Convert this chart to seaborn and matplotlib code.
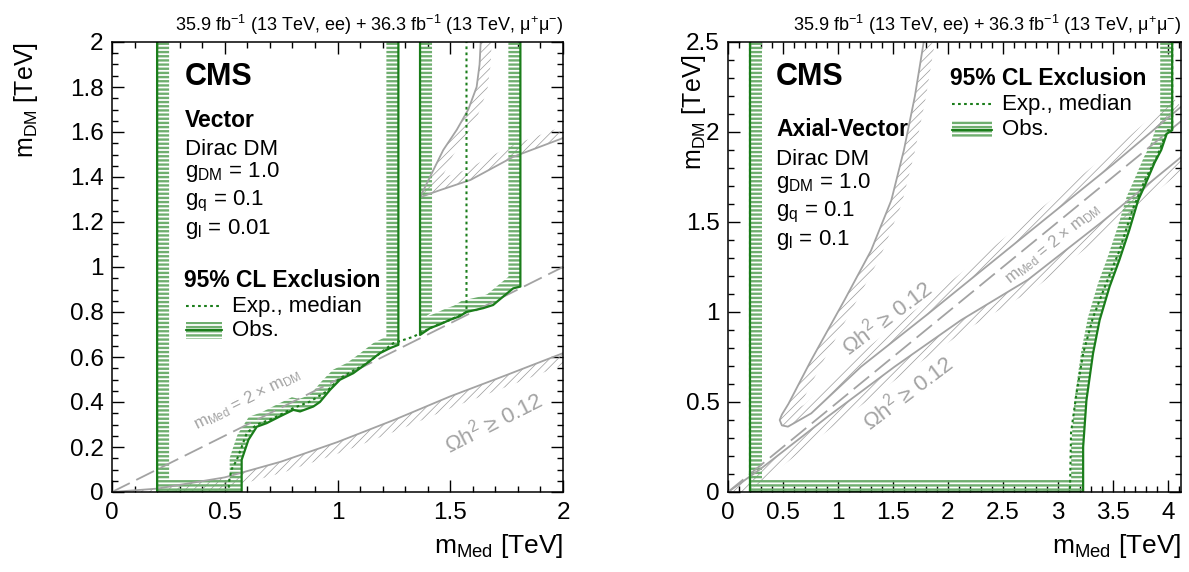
import numpy as np
import matplotlib
matplotlib.use('Agg')
import matplotlib.pyplot as plt
from matplotlib.ticker import MultipleLocator, FormatStrFormatter
from matplotlib.patches import Rectangle
import seaborn as sns

# ---- Vector mediator (left panel) ----
vec_obs1_x = [0.2, 0.2, 0.575, 0.575, 0.605, 0.642, 0.686, 0.745, 0.804, 0.834, 0.893, 0.922, 0.967, 1.011, 1.07, 1.13, 1.188, 1.232, 1.27, 1.27]
vec_obs1_y = [2.0, 0.0, 0.0, 0.143, 0.232, 0.29, 0.306, 0.336, 0.365, 0.358, 0.38, 0.40, 0.454, 0.499, 0.528, 0.572, 0.617, 0.639, 0.654, 2.0]
vec_obs2_x = [1.366, 1.366, 1.41, 1.454, 1.498, 1.54, 1.572, 1.646, 1.69, 1.734, 1.779, 1.811, 1.811]
vec_obs2_y = [2.0, 0.698, 0.728, 0.745, 0.765, 0.78, 0.80, 0.817, 0.831, 0.868, 0.905, 0.913, 2.0]
vec_exp_x = [0.2, 0.2, 0.516, 0.52, 0.53, 0.553, 0.575, 0.598, 0.642, 0.716, 0.804, 0.878, 0.952, 1.011, 1.13, 1.247, 1.336, 1.424, 1.50, 1.572, 1.572]
vec_exp_y = [2.0, 0.0, 0.0, 0.05, 0.1, 0.142, 0.2, 0.263, 0.299, 0.328, 0.373, 0.402, 0.447, 0.506, 0.572, 0.661, 0.69, 0.735, 0.765, 0.80, 2.0]
vec_relic_lo_x = [0.0, 0.2, 0.5, 0.75, 1.0, 1.25, 1.5, 1.75, 2.0]
vec_relic_lo_y = [0.0, 0.015, 0.065, 0.135, 0.222, 0.32, 0.425, 0.52, 0.617]
vec_relic_hi_x = [1.635, 1.63, 1.617, 1.58, 1.529, 1.469, 1.41, 1.366, 1.45, 1.59, 1.78, 2.0]
vec_relic_hi_y = [2.0, 1.90, 1.80, 1.70, 1.61, 1.52, 1.40, 1.31, 1.34, 1.387, 1.49, 1.573]

# ---- Axial-vector mediator (right panel) ----
av_obs_x = [0.2, 0.2, 3.23, 3.23, 3.26, 3.32, 3.38, 3.47, 3.56, 3.65, 3.73, 3.81, 3.88, 3.94, 3.99, 4.04, 4.04]
av_obs_y = [2.5, 0.0, 0.0, 0.25, 0.51, 0.77, 0.955, 1.14, 1.29, 1.456, 1.62, 1.73, 1.83, 1.90, 1.99, 2.01, 2.5]
av_exp_x = [0.2, 0.2, 3.11, 3.12, 3.17, 3.23, 3.32, 3.44, 3.56, 3.68, 3.79, 3.90, 3.97, 4.0, 4.04, 4.04]
av_exp_y = [2.5, 0.0, 0.0, 0.33, 0.55, 0.77, 0.97, 1.16, 1.34, 1.57, 1.73, 1.86, 1.97, 2.01, 2.01, 2.5]
av_relic_wedge_x = [1.78, 1.70, 1.60, 1.485, 1.30, 1.06, 0.757, 0.55, 0.49, 0.47, 0.49, 0.545, 0.757, 1.21, 1.82, 2.73, 3.5, 4.12]
av_relic_wedge_y = [2.5, 2.2, 1.9, 1.62, 1.34, 1.067, 0.733, 0.49, 0.43, 0.40, 0.37, 0.363, 0.437, 0.696, 0.99, 1.44, 1.82, 2.14]
av_relic_lo_x = [0.0, 0.3, 0.91, 1.515, 2.12, 2.73, 3.4, 4.12]
av_relic_lo_y = [0.0, 0.13, 0.42, 0.696, 0.955, 1.18, 1.5, 1.86]

header = '35.9 fb$^{-1}$ (13 TeV, ee) + 36.3 fb$^{-1}$ (13 TeV, μ$^{+}$μ$^{-}$)'
vec_info = ['Dirac DM', 'g$_{\\mathrm{DM}}$ = 1.0', 'g$_{\\mathrm{q}}$ = 0.1', 'g$_{\\mathrm{l}}$ = 0.01']
av_info = ['Dirac DM', 'g$_{\\mathrm{DM}}$ = 1.0', 'g$_{\\mathrm{q}}$ = 0.1', 'g$_{\\mathrm{l}}$ = 0.1']

GREEN = '#1a7d1a'
GREEN_H = '#6fae6f'
GREY = '#a3a3a3'
HATCH_GREY = '#9a9a9a'

sns.set_theme(style='ticks')
plt.rcParams['font.family'] = ['Liberation Sans', 'DejaVu Sans']
plt.rcParams['mathtext.fontset'] = 'custom'
plt.rcParams['mathtext.rm'] = 'Liberation Sans'
plt.rcParams['mathtext.it'] = 'Liberation Sans:italic'
plt.rcParams['mathtext.bf'] = 'Liberation Sans:bold'
plt.rcParams['axes.linewidth'] = 1.1
plt.rcParams['axes.edgecolor'] = 'black'
plt.rcParams['text.color'] = 'black'
plt.rcParams['axes.labelcolor'] = 'black'
plt.rcParams['xtick.color'] = 'black'
plt.rcParams['ytick.color'] = 'black'


def band_polygon(ax, xs, ys, width, side):
    # offset the curve by a fixed number of pixels towards one side
    pts = ax.transData.transform(np.column_stack([xs, ys]))
    d = np.diff(pts, axis=0)
    d = d / np.linalg.norm(d, axis=1)[:, None]
    n = np.column_stack([-d[:, 1], d[:, 0]]) * side
    nv = np.empty_like(pts)
    nv[0], nv[-1] = n[0], n[-1]
    m = n[:-1] + n[1:]
    m = m / np.linalg.norm(m, axis=1)[:, None]
    cos = np.sum(m * n[:-1], axis=1)
    nv[1:-1] = m / np.clip(cos, 0.4, None)[:, None]
    off = pts + width * nv
    poly = np.vstack([pts, off[::-1]])
    return ax.transData.inverted().transform(poly)


def hatched(ax, xs, ys, width, side, hatch, color, hlw):
    poly = band_polygon(ax, xs, ys, width, side)
    with plt.rc_context({'hatch.linewidth': hlw}):
        p = ax.fill(poly[:, 0], poly[:, 1], facecolor='none', edgecolor=color,
                    linewidth=0, hatch=hatch, zorder=1)[0]
    if hasattr(p, 'set_hatch_linewidth'):
        p.set_hatch_linewidth(hlw)


def style_axes(ax, xmax, ymax, xmaj, xmin, ymaj, ymin):
    ax.set_xlim(0, xmax)
    ax.set_ylim(0, ymax)
    ax.xaxis.set_major_locator(MultipleLocator(xmaj))
    ax.xaxis.set_minor_locator(MultipleLocator(xmin))
    ax.yaxis.set_major_locator(MultipleLocator(ymaj))
    ax.yaxis.set_minor_locator(MultipleLocator(ymin))
    ax.xaxis.set_major_formatter(FormatStrFormatter('%g'))
    ax.yaxis.set_major_formatter(FormatStrFormatter('%g'))
    ax.tick_params(which='both', direction='in', top=True, right=True,
                   width=1.0, color='black', labelsize=17.5, labelcolor='black')
    ax.tick_params(which='major', length=8.5)
    ax.tick_params(which='minor', length=4.3)
    ax.tick_params(axis='x', which='major', pad=7)
    ax.tick_params(axis='y', which='major', pad=6)
    for s in ax.spines.values():
        s.set_visible(True)
        s.set_zorder(5)


fig = plt.figure(figsize=(11.89, 5.72), dpi=100)
ax1 = fig.add_axes([112 / 1189, 80 / 572, 451 / 1189, 450 / 572])
ax2 = fig.add_axes([728 / 1189, 80 / 572, 453 / 1189, 450 / 572])
style_axes(ax1, 2.0, 2.0, 0.5, 0.1, 0.2, 0.05)
style_axes(ax2, 4.12, 2.5, 0.5, 0.1, 0.5, 0.1)

W = 12

# ---- left panel ----
hatched(ax1, vec_relic_lo_x, vec_relic_lo_y, 11, -1, '////', HATCH_GREY, 0.5)
hatched(ax1, vec_relic_hi_x, vec_relic_hi_y, 11, 1, '////', HATCH_GREY, 0.5)
sns.lineplot(x=vec_relic_lo_x, y=vec_relic_lo_y, sort=False, estimator=None, color=GREY, lw=1.3, ax=ax1)
sns.lineplot(x=vec_relic_hi_x, y=vec_relic_hi_y, sort=False, estimator=None, color=GREY, lw=1.3, ax=ax1)
dl = sns.lineplot(x=[0, 2.0], y=[0, 1.0], color=GREY, lw=1.3, ax=ax1).lines[-1]
dl.set_dashes([11, 4])
hatched(ax1, vec_obs1_x, vec_obs1_y, W, 1, '----', GREEN_H, 1.7)
hatched(ax1, vec_obs2_x, vec_obs2_y, W, 1, '----', GREEN_H, 1.7)
sns.lineplot(x=vec_exp_x, y=vec_exp_y, sort=False, estimator=None, color=GREEN, lw=1.5,
             linestyle=(0, (1.3, 1.6)), ax=ax1)
sns.lineplot(x=vec_obs1_x, y=vec_obs1_y, sort=False, estimator=None, color=GREEN, lw=1.6, ax=ax1)
sns.lineplot(x=vec_obs2_x, y=vec_obs2_y, sort=False, estimator=None, color=GREEN, lw=1.6, ax=ax1)

ax1.text(0.6, 0.41, 'm$_{\\mathrm{Med}}$ = 2 × m$_{\\mathrm{DM}}$', color=GREY, fontsize=12,
         rotation=26.6, rotation_mode='anchor', ha='center', va='center')
ax1.text(1.69, 0.31, 'Ωh$^{2}$ ≥ 0.12', color=GREY, fontsize=16,
         rotation=27, rotation_mode='anchor', ha='center', va='center')

# ---- right panel ----
hatched(ax2, av_relic_lo_x, av_relic_lo_y, 11, -1, '////', HATCH_GREY, 0.5)
hatched(ax2, av_relic_wedge_x, av_relic_wedge_y, 11, 1, '////', HATCH_GREY, 0.5)
sns.lineplot(x=av_relic_lo_x, y=av_relic_lo_y, sort=False, estimator=None, color=GREY, lw=1.3, ax=ax2)
sns.lineplot(x=av_relic_wedge_x, y=av_relic_wedge_y, sort=False, estimator=None, color=GREY, lw=1.3, ax=ax2)
dl = sns.lineplot(x=[0, 4.12], y=[0, 2.06], color=GREY, lw=1.3, ax=ax2).lines[-1]
dl.set_dashes([11, 4])
hatched(ax2, av_obs_x, av_obs_y, W, 1, '----', GREEN_H, 1.7)
sns.lineplot(x=av_exp_x, y=av_exp_y, sort=False, estimator=None, color=GREEN, lw=1.5,
             linestyle=(0, (1.3, 1.6)), ax=ax2)
sns.lineplot(x=av_obs_x, y=av_obs_y, sort=False, estimator=None, color=GREEN, lw=1.6, ax=ax2)

ax2.text(1.45, 0.97, 'Ωh$^{2}$ ≥ 0.12', color=GREY, fontsize=16,
         rotation=37, rotation_mode='anchor', ha='center', va='center')
ax2.text(1.64, 0.55, 'Ωh$^{2}$ ≥ 0.12', color=GREY, fontsize=16,
         rotation=37, rotation_mode='anchor', ha='center', va='center')
ax2.text(2.95, 1.38, 'm$_{\\mathrm{Med}}$ = 2 × m$_{\\mathrm{DM}}$', color=GREY, fontsize=12,
         rotation=39, rotation_mode='anchor', ha='center', va='center')


# ---- text blocks ----
def info_block(ax, x0, ys, model, info):
    ax.text(x0, ys[0], 'CMS', transform=ax.transAxes, fontsize=22, fontweight='bold', va='baseline')
    ax.text(x0, ys[1], model, transform=ax.transAxes, fontsize=16.5, fontweight='bold', va='baseline')
    for yy, s in zip(ys[2:], info):
        ax.text(x0, yy, s, transform=ax.transAxes, fontsize=16, va='baseline')


def cl_legend(ax, x0, ty, ey, oy, box):
    ax.text(x0, ty, '95% CL Exclusion', transform=ax.transAxes, fontsize=16.5,
            fontweight='bold', va='baseline')
    ax.plot([box[0], box[1]], [ey + 0.013, ey + 0.013], transform=ax.transAxes,
            color=GREEN, lw=1.5, linestyle=(0, (1.3, 1.6)))
    ax.text(box[1] + 0.022, ey, 'Exp., median', transform=ax.transAxes, fontsize=16, va='baseline')
    with plt.rc_context({'hatch.linewidth': 1.7}):
        r = Rectangle((box[0], oy - 0.007), box[1] - box[0], 0.038, transform=ax.transAxes,
                      facecolor='none', edgecolor=GREEN_H, lw=0, hatch='----')
    ax.add_patch(r)
    ax.plot([box[0], box[1]], [oy + 0.012, oy + 0.012], transform=ax.transAxes, color=GREEN, lw=1.6)
    ax.text(box[1] + 0.022, oy, 'Obs.', transform=ax.transAxes, fontsize=16, va='baseline')


info_block(ax1, 0.162, [0.904, 0.812, 0.749, 0.70, 0.636, 0.573], 'Vector', vec_info)
cl_legend(ax1, 0.16, 0.456, 0.40, 0.347, (0.164, 0.245))
info_block(ax2, 0.106, [0.904, 0.79, 0.727, 0.675, 0.612, 0.549], 'Axial-Vector', av_info)
cl_legend(ax2, 0.49, 0.904, 0.849, 0.793, (0.494, 0.582))

for ax, ylx, yly in [(ax1, -0.16, 1.0), (ax2, -0.045, 0.972)]:
    ax.text(1.0, 1.012, header, transform=ax.transAxes, ha='right', va='bottom', fontsize=13,
            family=['Liberation Sans Narrow', 'Liberation Sans', 'DejaVu Sans'])
    ax.set_xlabel('m$_{\\mathrm{Med}}$ [TeV]', loc='right', fontsize=19)
    ax.xaxis.set_label_coords(1.0, -0.09)
    ax.set_ylabel('m$_{\\mathrm{DM}}$ [TeV]', loc='top', fontsize=18)
    ax.yaxis.set_label_coords(ylx, yly)

fig.savefig('out.png', dpi=100)
